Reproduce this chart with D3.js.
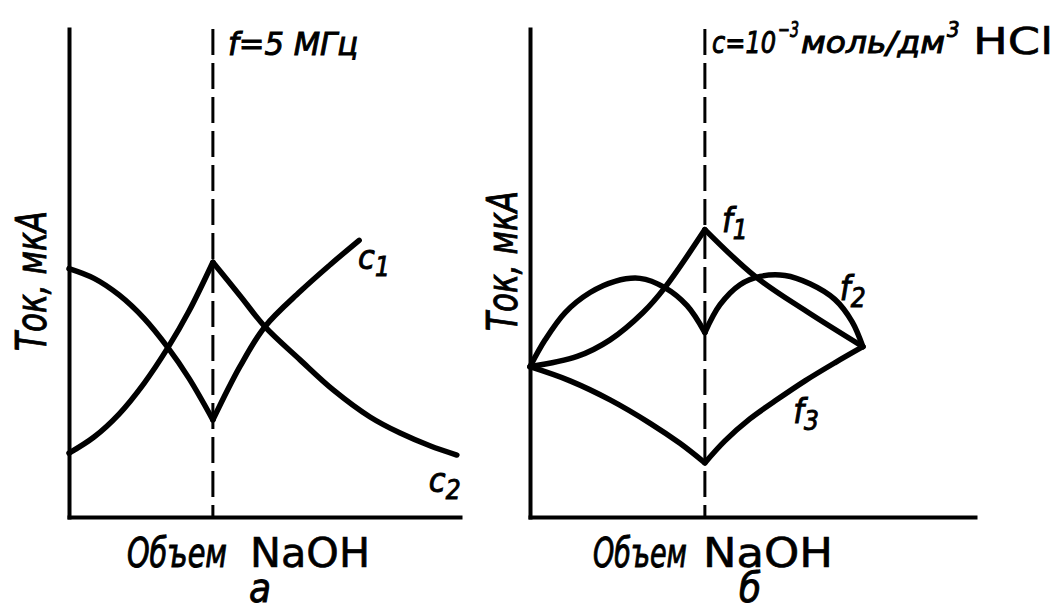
<!DOCTYPE html>
<html><head><meta charset="utf-8">
<script src="https://cdn.jsdelivr.net/npm/d3@7"></script>
<style>body{margin:0;background:#fff}</style>
</head><body>
<svg id="chart" width="1052" height="612"></svg>
<script>
// ---- Panel a: f = 5 MHz, two concentrations ----
const eqA = 3.68;                       // equivalence volume (dashed line)
const c1X = [0, 0.64, 1.28, 1.92, 2.53, 3.07, 3.68, 4.37, 5.01, 5.91, 6.68, 7.42];
const c1Y = [5.09, 4.89, 4.55, 4.07, 3.47, 2.84, 1.99, 3.08, 3.90, 4.62, 5.17, 5.67];
const c2X = [0, 0.64, 1.28, 1.92, 2.53, 3.07, 3.68, 4.37, 5.01, 5.91, 6.75, 7.70, 8.47, 9.23, 9.92];
const c2Y = [1.31, 1.64, 2.11, 2.74, 3.47, 4.22, 5.22, 4.54, 3.90, 3.22, 2.61, 2.05, 1.72, 1.46, 1.27];

// ---- Panel б: c = 1e-3 mol/dm3 HCl, three frequencies ----
const eqB = 3.93;
const f1X = [0, 1.06, 1.80, 2.54, 3.03, 3.93, 5.06, 6.22, 7.48];
const f1Y = [3.08, 3.29, 3.63, 4.19, 4.70, 5.89, 4.93, 4.21, 3.49];
const f2X = [0, 0.34, 0.79, 1.35, 1.91, 2.47, 3.03, 3.53, 3.93, 4.27, 4.72, 5.17, 5.73, 6.29, 6.85, 7.24, 7.48];
const f2Y = [3.08, 3.63, 4.19, 4.60, 4.83, 4.89, 4.70, 4.33, 3.78, 4.35, 4.76, 4.93, 4.95, 4.78, 4.46, 4.00, 3.49];
const f3X = [0, 0.90, 1.80, 2.70, 3.37, 3.93, 4.38, 4.94, 5.51, 6.18, 6.85, 7.48];
const f3Y = [3.08, 2.79, 2.40, 1.92, 1.51, 1.11, 1.56, 2.01, 2.38, 2.79, 3.16, 3.49];

const yLabel = "Ток, мкА";
const xLabelIt = "Объем";
const xLabelReg = "NaOH";
const panelLetters = ["а", "б"];

const svg = d3.select("#chart");
svg.append("rect").attr("width", 1052).attr("height", 612).attr("fill", "#fff");

const italic = "'Liberation Sans Narrow','DejaVu Sans Condensed','Liberation Sans',sans-serif";
const plain = "'DejaVu Sans',sans-serif";

function zip(xs, ys) { return xs.map((x, i) => ({x, y: ys[i]})); }

function panel(xRange, eq, curves) {
  const x = d3.scaleLinear().domain([0, 10]).range(xRange);
  const y = d3.scaleLinear().domain([0, 10]).range([517, 29]);
  const g = svg.append("g");
  g.append("g").attr("transform", `translate(${xRange[0]},0)`)
    .call(d3.axisLeft(y).ticks(0).tickSizeOuter(0));
  g.append("g").attr("transform", `translate(0,517)`)
    .call(d3.axisBottom(x).ticks(0).tickSizeOuter(0));
  g.selectAll(".domain").attr("stroke", "#000").attr("stroke-width", 4).attr("stroke-linecap", "square");
  g.append("line")
    .attr("x1", x(eq)).attr("x2", x(eq)).attr("y1", y(10)).attr("y2", y(0))
    .attr("stroke", "#000").attr("stroke-width", 3).attr("stroke-dasharray", "26,8");
  const line = d3.line().x(d => x(d.x)).y(d => y(d.y)).curve(d3.curveCatmullRom.alpha(0.5));
  curves.forEach(pts => {
    const left = pts.filter(p => p.x <= eq + 1e-9);
    const right = pts.filter(p => p.x >= eq - 1e-9);
    [left, right].forEach(seg => {
      if (seg.length > 1) g.append("path").attr("d", line(seg)).attr("fill", "none")
        .attr("stroke", "#000").attr("stroke-width", 5.5).attr("stroke-linecap", "round").attr("stroke-linejoin", "round");
    });
  });
  return {x, y, g};
}

const A = panel([69, 460], eqA, [zip(c1X, c1Y), zip(c2X, c2Y)]);
const B = panel([530, 975], eqB, [zip(f1X, f1Y), zip(f2X, f2Y), zip(f3X, f3Y)]);

function itText(sel) {
  return sel.attr("font-family", italic).attr("font-style", "italic")
    .attr("stroke", "#000").attr("stroke-width", 0.9).attr("fill", "#000");
}

// y-axis titles
function yTitle(xb, yc) {
  itText(svg.append("text")).attr("transform", `translate(${xb},${yc}) rotate(-90)`)
    .attr("text-anchor", "middle")
    .attr("font-size", 42).attr("textLength", 140).attr("lengthAdjust", "spacingAndGlyphs").text(yLabel);
}
yTitle(46, 281);
yTitle(517, 261);

// x-axis titles
function xTitle(x0, w1, x1, w2, letterX, letter) {
  itText(svg.append("text")).attr("x", x0).attr("y", 567)
    .attr("font-size", 40).attr("textLength", w1).attr("lengthAdjust", "spacingAndGlyphs").text(xLabelIt);
  svg.append("text").attr("x", x1).attr("y", 567).attr("font-family", plain)
    .attr("stroke", "#000").attr("stroke-width", 0.6)
    .attr("font-size", 40).attr("textLength", w2).attr("lengthAdjust", "spacingAndGlyphs").text(xLabelReg);
  itText(svg.append("text")).attr("x", letterX).attr("y", 602).attr("text-anchor", "middle")
    .attr("font-size", 40).text(letter);
}
xTitle(127, 100, 250, 120, 260, panelLetters[0]);
xTitle(593, 94, 703, 130, 750, panelLetters[1]);

// top annotations
itText(svg.append("text")).attr("x", 228).attr("y", 55)
  .attr("font-size", 32).attr("textLength", 130).attr("lengthAdjust", "spacingAndGlyphs").text("f=5 МГц");

const t = itText(svg.append("text")).attr("y", 53).attr("font-size", 30);
t.append("tspan").attr("x", 712).attr("textLength", 64).attr("lengthAdjust", "spacingAndGlyphs").text("c=10");
t.append("tspan").attr("x", 778).attr("dy", -16).attr("font-size", 22).attr("textLength", 21).attr("lengthAdjust", "spacingAndGlyphs").text("−3");
t.append("tspan").attr("x", 801).attr("dy", 16).attr("textLength", 144).attr("lengthAdjust", "spacingAndGlyphs").text("моль/дм");
t.append("tspan").attr("x", 947).attr("dy", -16).attr("font-size", 22).text("3");
t.append("tspan").attr("x", 973).attr("dy", 17).attr("font-family", plain).attr("font-style", "normal")
  .attr("stroke-width", 0.6).attr("font-size", 38).attr("textLength", 80).attr("lengthAdjust", "spacingAndGlyphs").text("HCl");

// curve labels (sub-indexed)
function lab(px, py, main, sub) {
  const tx = itText(svg.append("text")).attr("x", px).attr("y", py).attr("font-size", 34);
  tx.append("tspan").text(main);
  tx.append("tspan").attr("dy", 7).attr("font-size", 26).text(sub);
}
lab(A.x(c1X[c1X.length - 1]) - 1, A.y(c1Y[c1Y.length - 1]) + 29, "c", "1");
lab(A.x(c2X[c2X.length - 1]) - 28, A.y(c2Y[c2Y.length - 1]) + 37, "c", "2");
lab(B.x(eqB) + 17, B.y(f1Y[5]) + 2, "f", "1");
lab(B.x(f2X[f2X.length - 1]) - 23, B.y(f2Y[f2Y.length - 1]) - 47, "f", "2");
lab(B.x(5.51) + 18, B.y(2.38) + 22, "f", "3");
</script>
</body></html>
